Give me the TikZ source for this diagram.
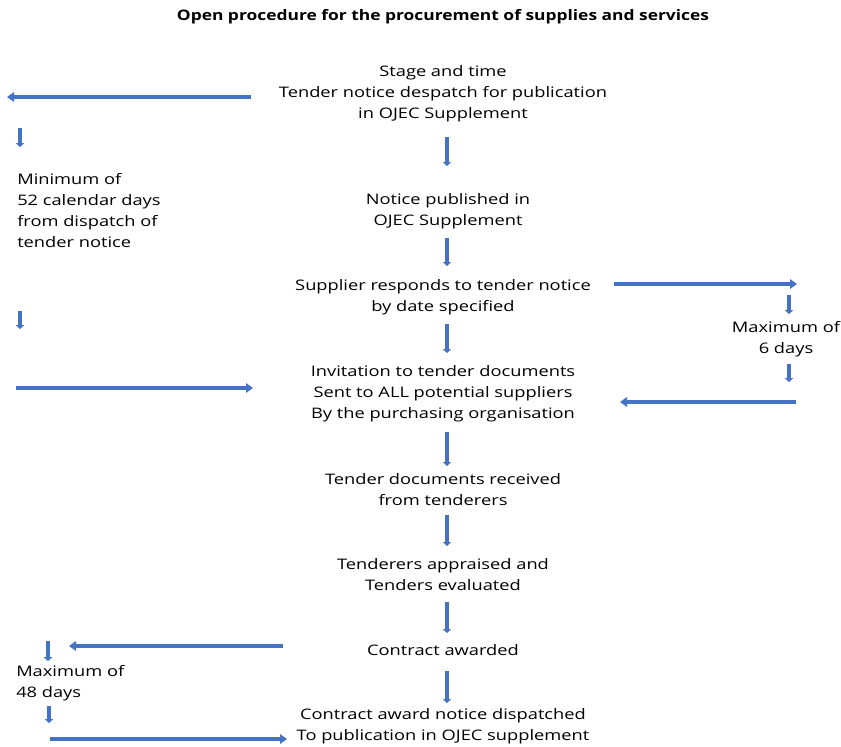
\documentclass[tikz,border=0pt]{standalone}
\usepackage{fontspec}
\setmainfont{Open Sans}
\usetikzlibrary{arrows.meta}
\definecolor{flowblue}{HTML}{4472C4}
\begin{document}
\begin{tikzpicture}[x=1pt,y=-1pt,
  txt/.style={inner sep=0pt,align=center,xscale=1.26,font=\fontsize{14.5}{21}\selectfont},
  ltxt/.style={inner sep=0pt,align=left,xscale=1.26,font=\fontsize{14.5}{21}\selectfont},
  longarrow/.style={draw=flowblue,line width=3.5pt,-{Triangle[length=7pt,width=9.5pt]}},
  stemarrow/.style={draw=flowblue,line width=4pt,-{Triangle[length=4pt,width=8pt]}},
  tickarrow/.style={draw=flowblue,line width=4.5pt,-{Triangle[length=4pt,width=8.5pt]}}]
\useasboundingbox (0,0) rectangle (841,747);

% title
\node[inner sep=0pt,xscale=1.2,font=\fontsize{14.5}{20}\selectfont\bfseries] (title) at (443,17) {Open procedure for the procurement of supplies and services};

% main column of stages
\node[txt] (stage) at (443,93.5) {Stage and time\\Tender notice despatch for publication\\in OJEC Supplement};
\node[txt] (published) at (448,211) {Notice published in\\OJEC Supplement};
\node[txt] (respond) at (443,297) {Supplier responds to tender notice\\by date specified};
\node[txt] (invite) at (443,393.5) {Invitation to tender documents\\Sent to ALL potential suppliers\\By the purchasing organisation};
\node[txt] (received) at (443,490) {Tender documents received\\from tenderers};
\node[txt] (appraised) at (443,575) {Tenderers appraised and\\Tenders evaluated};
\node[txt] (awarded) at (443,650.5) {Contract awarded};
\node[txt] (dispatched) at (443,726) {Contract award notice dispatched\\To publication in OJEC supplement};

% side notes
\node[ltxt,anchor=west] (min52) at (17,211) {Minimum of\\52 calendar days\\from dispatch of\\tender notice};
\node[txt] (max6) at (786,339.5) {Maximum of\\6 days};
\node[ltxt,anchor=west] (max48) at (16,683) {Maximum of\\48 days};

% arrows between stages
\draw[stemarrow] (447,137) -- (447,166);
\draw[stemarrow] (447,238) -- (447,266);
\draw[stemarrow] (447,324) -- (447,353);
\draw[stemarrow] (447,432) -- (447,466);
\draw[stemarrow] (447,515) -- (447,546);
\draw[stemarrow] (447,602) -- (447,633);
\draw[stemarrow] (447,671) -- (447,703);

% left-hand timing: 52 days
\coordinate (l1s) at (251,97);
\coordinate (l1e) at (7,97);
\draw[longarrow] (l1s) -- (l1e);
\coordinate (l2s) at (20,128);
\coordinate (l2e) at (20,147);
\draw[tickarrow] (l2s) -- (l2e);
\coordinate (l3s) at (20,311);
\coordinate (l3e) at (20,329);
\draw[tickarrow] (l3s) -- (l3e);
\coordinate (l4s) at (16,388);
\coordinate (l4e) at (253,388);
\draw[longarrow] (l4s) -- (l4e);

% right-hand timing: 6 days
\coordinate (r1s) at (614,284);
\coordinate (r1e) at (797,284);
\draw[longarrow] (r1s) -- (r1e);
\coordinate (r2s) at (789,295);
\coordinate (r2e) at (789,314);
\draw[tickarrow] (r2s) -- (r2e);
\coordinate (r3s) at (789,364);
\coordinate (r3e) at (789,382);
\draw[tickarrow] (r3s) -- (r3e);
\coordinate (r4s) at (796,402);
\coordinate (r4e) at (620,402);
\draw[longarrow] (r4s) -- (r4e);

% bottom timing: 48 days
\coordinate (b1s) at (283,646);
\coordinate (b1e) at (69,646);
\draw[longarrow] (b1s) -- (b1e);
\coordinate (b2s) at (48,641);
\coordinate (b2e) at (48,661);
\draw[tickarrow] (b2s) -- (b2e);
\coordinate (b3s) at (49,706);
\coordinate (b3e) at (49,723);
\draw[tickarrow] (b3s) -- (b3e);
\coordinate (b4s) at (50,739);
\coordinate (b4e) at (287,739);
\draw[longarrow] (b4s) -- (b4e);
\end{tikzpicture}
\end{document}
